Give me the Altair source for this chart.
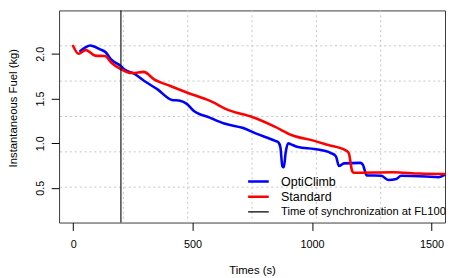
import altair as alt
import pandas as pd

# ---- data ----
series_names = ["OptiClimb", "Standard", "Time of synchronization at FL100"]
series_colors = ["#0000ff", "#ff0000", "#000000"]
series_widths = [2.6, 2.6, 1.1]

opti_x = [30, 50, 71, 113, 135, 160, 201, 215, 257, 298, 352, 414, 448, 476, 503,
          572, 633, 709, 764, 846, 859, 868, 876, 882, 890, 900, 910, 942, 1010,
          1079, 1100, 1113, 1134, 1202, 1213, 1229, 1291, 1319, 1353, 1373, 1476,
          1531, 1555]
opti_y = [2.033, 2.07, 2.094, 2.05, 2.02, 1.934, 1.86, 1.824, 1.776, 1.696, 1.605,
          1.484, 1.476, 1.44, 1.367, 1.287, 1.22, 1.172, 1.11, 1.026, 1.01, 0.95,
          0.74, 0.73, 0.9, 1.0, 0.99, 0.957, 0.935, 0.89, 0.854, 0.744, 0.774,
          0.78, 0.76, 0.64, 0.635, 0.588, 0.6, 0.635, 0.628, 0.62, 0.645]

std_x = [0, 23, 53, 92, 133, 160, 201, 236, 250, 295, 339, 407, 476, 571, 654, 750,
         846, 914, 1010, 1065, 1141, 1154, 1168, 1175, 1339, 1450, 1555]
std_y = [2.088, 2.0, 2.044, 1.98, 1.975, 1.90, 1.826, 1.787, 1.785, 1.798, 1.715,
         1.64, 1.567, 1.476, 1.367, 1.293, 1.183, 1.092, 1.026, 0.982, 0.92, 0.89,
         0.69, 0.67, 0.675, 0.66, 0.655]

sync_time = [200]

x_ticks = [0, 500, 1000, 1500]
y_ticks = [0.5, 1.0, 1.5, 2.0]
grid_x = [210.3, 479.7, 749.0, 1018.3, 1287.7]
grid_y = [0.508, 0.903, 1.299, 1.695, 2.090]
x_domain = [-59, 1557]
y_domain = [0.112, 2.486]

# ---- tables ----
lines_df = pd.concat([
    pd.DataFrame({"t": opti_x, "fuel": opti_y, "series": series_names[0]}),
    pd.DataFrame({"t": std_x, "fuel": std_y, "series": series_names[1]}),
], ignore_index=True)
sync_df = pd.DataFrame({"t": sync_time, "series": [series_names[2]]})
gx_df = pd.DataFrame({"t": grid_x})
gy_df = pd.DataFrame({"fuel": grid_y})

xscale = alt.Scale(domain=x_domain, nice=False, zero=False)
yscale = alt.Scale(domain=y_domain, nice=False, zero=False)

legend = alt.Legend(
    title=None, orient="none", legendX=191, legendY=167.8,
    symbolType="stroke", symbolSize=441, padding=0, rowPadding=1.4,
    clipHeight=13,
    labelOffset=11, labelFont="Liberation Sans",
    labelFontSize=alt.ExprRef(expr="datum.value == 'Time of synchronization at FL100' ? 11.4 : 12.7"),
    labelColor="#000000", labelLimit=400,
)
color_enc = alt.Color("series:N", scale=alt.Scale(domain=series_names, range=series_colors), legend=legend)
sw_enc = alt.StrokeWidth("series:N", scale=alt.Scale(type="ordinal", domain=series_names, range=series_widths), legend=legend)

x_axis = alt.Axis(
    values=x_ticks, format="d", title="Times (s)", domain=False, grid=False,
    tickSize=8, tickColor="#000000", labelPadding=8, labelFontSize=11,
    labelColor="#000000", titleFontSize=11.5, titleFontWeight="normal",
    titleColor="#000000", titleX=196.5, titleY=52, titleBaseline="alphabetic",
    titleAlign="center", labelFlush=False,
)
y_axis = alt.Axis(
    values=y_ticks, format=".1f", title="Instantaneous Fuel (kg)", domain=False,
    grid=False, tickSize=8, tickColor="#000000", labelPadding=8, labelFontSize=11,
    labelColor="#000000", labelAngle=270, labelAlign="center",
    labelBaseline="alphabetic", titleFontSize=11.5, titleFontWeight="normal",
    titleColor="#000000", titleAngle=270, titleX=-43.5, titleY=99,
    titleBaseline="alphabetic", titleAlign="center", labelFlush=False,
)

grid_v = alt.Chart(gx_df).mark_rule(color="#c4c4c4", strokeDash=[2, 3], strokeWidth=1).encode(
    x=alt.X("t:Q", scale=xscale, axis=x_axis)
)
grid_h = alt.Chart(gy_df).mark_rule(color="#c4c4c4", strokeDash=[2, 3], strokeWidth=1).encode(
    y=alt.Y("fuel:Q", scale=yscale, axis=y_axis)
)
lines = alt.Chart(lines_df).mark_line(strokeJoin="round", strokeCap="round", interpolate="monotone").encode(
    x=alt.X("t:Q", scale=xscale, axis=x_axis),
    y=alt.Y("fuel:Q", scale=yscale, axis=y_axis),
    color=color_enc, strokeWidth=sw_enc, detail="series:N",
)
sync = alt.Chart(sync_df).mark_rule().encode(
    x=alt.X("t:Q", scale=xscale, axis=x_axis),
    color=color_enc, strokeWidth=sw_enc,
)

chart = alt.layer(grid_v, grid_h, lines, sync).properties(
    width=393, height=216,
    autosize=alt.AutoSizeParams(type="none"),
    padding={"left": 52, "top": 0, "right": 1, "bottom": 54},
).configure(font="Liberation Sans").configure_view(stroke="#3a3a3a", strokeWidth=1)

chart.save("out.html", embed_options={"renderer": "svg", "actions": False})
